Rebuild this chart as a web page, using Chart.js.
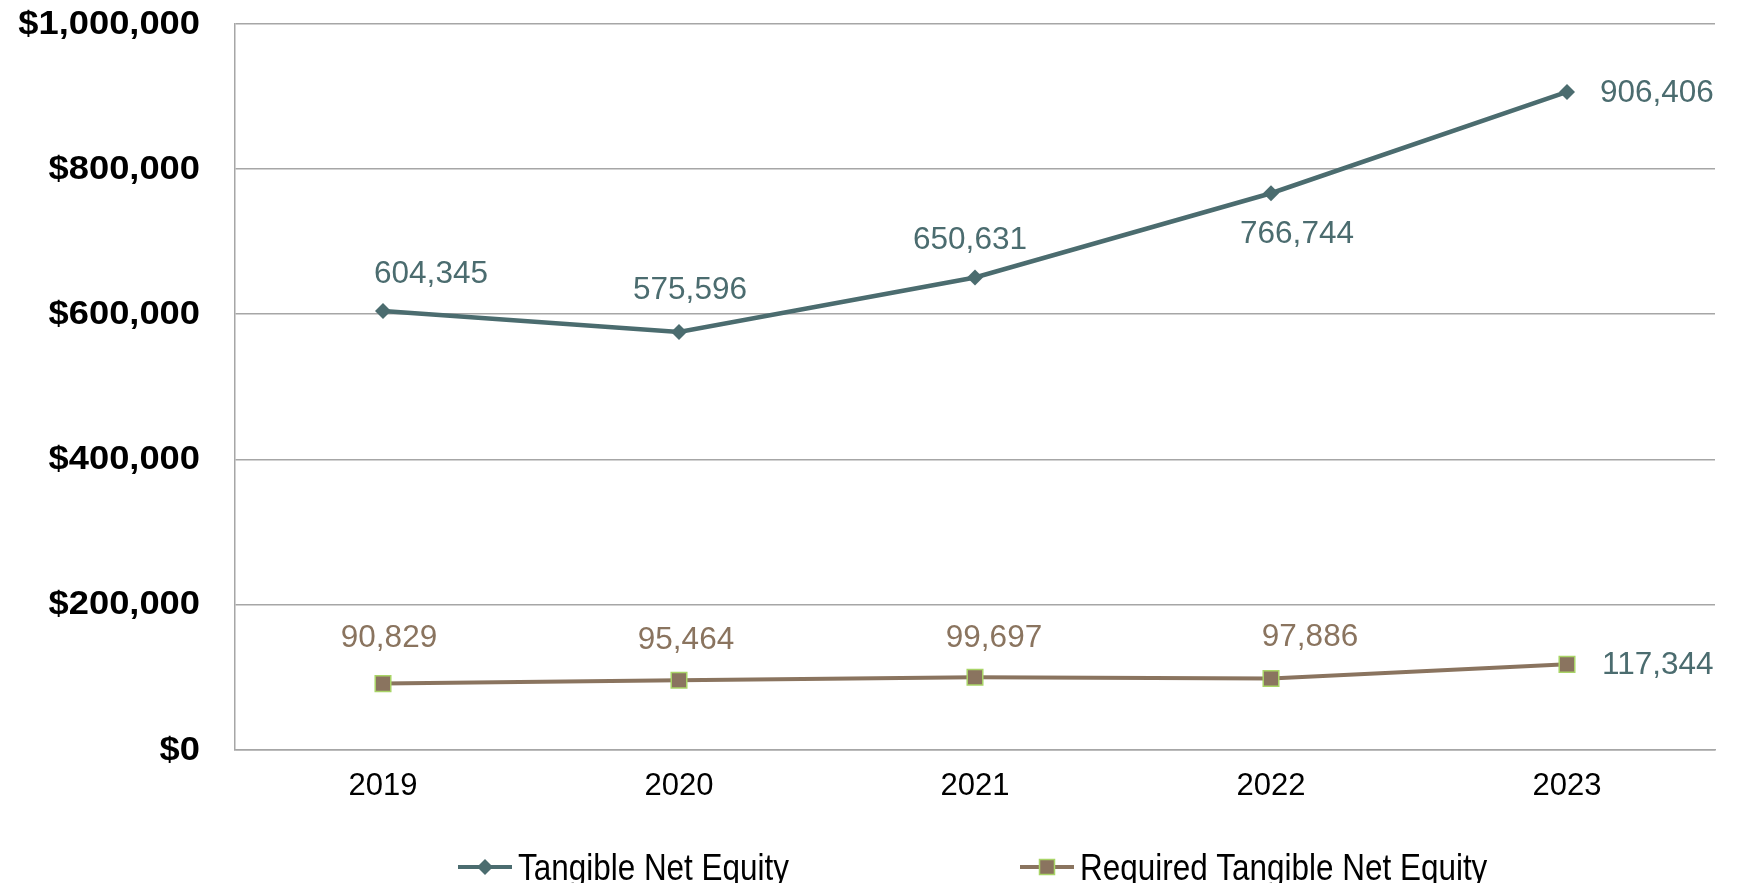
<!DOCTYPE html>
<html>
<head>
<meta charset="utf-8">
<script src="https://cdn.jsdelivr.net/npm/chart.js@4.4.1/dist/chart.umd.min.js"></script>
<style>
  html, body { margin: 0; padding: 0; background: #ffffff; }
  #wrap { width: 1737px; height: 883px; }
</style>
</head>
<body>
<div id="wrap"><canvas id="chart" width="1737" height="883"></canvas></div>
<script>
// Years on the category axis
const years = ['2019', '2020', '2021', '2022', '2023'];

// Tangible net equity by year
const tangibleNetEquity = [604345, 575596, 650631, 766744, 906406];

// Required tangible net equity by year
const requiredTangibleNetEquity = [90829, 95464, 99697, 97886, 117344];

// Value axis ticks
const yTicks = [0, 200000, 400000, 600000, 800000, 1000000];

// Series names
const seriesNames = ['Tangible Net Equity', 'Required Tangible Net Equity'];

// Placement of each value label relative to its point (dx, dy, align)
const tneLabelPlacement = [
  [48, -37, 'center'], [11, -42, 'center'], [-5, -37, 'center'], [26, 41, 'center'], [33, 1, 'left']
];
const reqLabelPlacement = [
  [6, -45, 'center'], [7, -40, 'center'], [19, -39, 'center'], [39, -41, 'center'], [35, 1, 'left']
];

const TEAL = '#4b6c6f';
const BROWN = '#8a745f';
const GREEN_EDGE = '#a9d467';
const GRID = '#a6a6a6';

const fmt = v => v.toLocaleString('en-US');
const money = v => '$' + fmt(v);

// Value labels next to each point
const valueLabels = {
  id: 'valueLabels',
  afterDatasetsDraw(chart) {
    const ctx = chart.ctx;
    const placements = [tneLabelPlacement, reqLabelPlacement];
    const colors = [
      [TEAL, TEAL, TEAL, TEAL, TEAL],
      [BROWN, BROWN, BROWN, BROWN, TEAL]
    ];
    ctx.save();
    ctx.font = '31.5px "Liberation Sans", Arial, sans-serif';
    ctx.textBaseline = 'middle';
    chart.data.datasets.forEach((ds, di) => {
      const meta = chart.getDatasetMeta(di);
      meta.data.forEach((pt, i) => {
        const [dx, dy, align] = placements[di][i];
        ctx.fillStyle = colors[di][i];
        ctx.textAlign = align;
        ctx.fillText(fmt(ds.data[i]), pt.x + dx, pt.y + dy);
      });
    });
    ctx.restore();
  }
};

// Wide bold dollar labels on the value axis, placed by the y scale
const moneyAxisLabels = {
  id: 'moneyAxisLabels',
  afterDraw(chart) {
    const ctx = chart.ctx;
    const y = chart.scales.y;
    const right = y.right - 35;
    ctx.save();
    ctx.fillStyle = '#000000';
    ctx.font = 'bold 33px "Liberation Sans", Arial, sans-serif';
    ctx.textAlign = 'right';
    ctx.textBaseline = 'middle';
    yTicks.forEach(v => {
      ctx.save();
      ctx.translate(right, y.getPixelForValue(v) + 1);
      ctx.scale(1.1, 1);
      ctx.fillText(money(v), 0, 0);
      ctx.restore();
    });
    ctx.restore();
  }
};

// Legend below the plot: a line sample with its marker, then the name
const bottomLegend = {
  id: 'bottomLegend',
  afterDraw(chart) {
    const ctx = chart.ctx;
    const y = 867;
    const items = [
      { x: 458, color: TEAL, marker: 'diamond', name: seriesNames[0] },
      { x: 1020, color: BROWN, marker: 'square', name: seriesNames[1] }
    ];
    ctx.save();
    items.forEach(it => {
      ctx.strokeStyle = it.color;
      ctx.lineWidth = 4;
      ctx.beginPath();
      ctx.moveTo(it.x, y);
      ctx.lineTo(it.x + 54, y);
      ctx.stroke();
      const cx = it.x + 27;
      if (it.marker === 'diamond') {
        ctx.fillStyle = it.color;
        ctx.beginPath();
        ctx.moveTo(cx - 8, y);
        ctx.lineTo(cx, y - 8);
        ctx.lineTo(cx + 8, y);
        ctx.lineTo(cx, y + 8);
        ctx.closePath();
        ctx.fill();
      } else {
        ctx.fillStyle = it.color;
        ctx.fillRect(cx - 7.5, y - 7.5, 15, 15);
        ctx.strokeStyle = GREEN_EDGE;
        ctx.lineWidth = 1.5;
        ctx.strokeRect(cx - 7.5, y - 7.5, 15, 15);
      }
      ctx.fillStyle = '#000000';
      ctx.font = '37px "Liberation Sans", Arial, sans-serif';
      ctx.textAlign = 'left';
      ctx.textBaseline = 'alphabetic';
      ctx.save();
      ctx.translate(it.x + 60, 880);
      ctx.scale(0.85, 1);
      ctx.fillText(it.name, 0, 0);
      ctx.restore();
    });
    ctx.restore();
  }
};

new Chart(document.getElementById('chart'), {
  type: 'line',
  data: {
    labels: years,
    datasets: [
      {
        label: seriesNames[0],
        data: tangibleNetEquity,
        borderColor: TEAL,
        backgroundColor: TEAL,
        borderWidth: 4.5,
        tension: 0,
        pointStyle: 'rectRot',
        pointRadius: 8,
        pointHoverRadius: 8,
        pointBackgroundColor: TEAL,
        pointBorderColor: TEAL,
        pointBorderWidth: 0
      },
      {
        label: seriesNames[1],
        data: requiredTangibleNetEquity,
        borderColor: BROWN,
        backgroundColor: BROWN,
        borderWidth: 4,
        tension: 0,
        pointStyle: 'rect',
        pointRadius: 11,
        pointHoverRadius: 11,
        pointBackgroundColor: BROWN,
        pointBorderColor: GREEN_EDGE,
        pointBorderWidth: 1.5
      }
    ]
  },
  options: {
    responsive: false,
    devicePixelRatio: 1,
    animation: false,
    layout: { padding: { top: 24, right: 22, bottom: 73.5, left: 0 } },
    plugins: {
      legend: { display: false },
      tooltip: { enabled: false }
    },
    scales: {
      x: {
        offset: true,
        grid: { display: false, drawTicks: false },
        border: { display: true, color: GRID, width: 1.5 },
        ticks: {
          color: '#000000',
          padding: 18,
          font: { family: '"Liberation Sans", Arial, sans-serif', size: 31 }
        },
        afterFit(scale) { scale.height = 60; scale.paddingLeft = 0; scale.paddingRight = 0; }
      },
      y: {
        min: 0,
        max: 1000000,
        afterBuildTicks(scale) { scale.ticks = yTicks.map(v => ({ value: v })); },
        grid: { color: GRID, lineWidth: 1.5, drawTicks: false },
        border: { display: true, color: GRID, width: 1.5 },
        ticks: { display: false },
        afterFit(scale) {
          scale.width = 235;
          scale.paddingTop = 0;
          scale.paddingBottom = 0;
        }
      }
    }
  },
  plugins: [valueLabels, moneyAxisLabels, bottomLegend]
});
</script>
</body>
</html>
